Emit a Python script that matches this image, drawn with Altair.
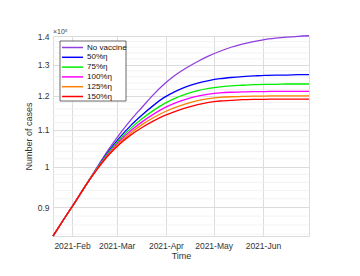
import altair as alt
import pandas as pd

dates = ["2021-01-20", "2021-01-27", "2021-02-03", "2021-02-10", "2021-02-17", "2021-02-24",
         "2021-03-03", "2021-03-10", "2021-03-17", "2021-03-24", "2021-03-31", "2021-04-07",
         "2021-04-14", "2021-04-21", "2021-04-28", "2021-05-05", "2021-05-12", "2021-05-19",
         "2021-05-26", "2021-06-02", "2021-06-09", "2021-06-16", "2021-06-23", "2021-06-30"]

series_names = ["No vaccine", "50%η", "75%η", "100%η", "125%η", "150%η"]
series_colors = ["#8f3fe0", "#0000ff", "#00ee00", "#ff00ff", "#ff8000", "#ff0000"]

no_vaccine = [0.836, 0.874, 0.913, 0.955, 1.000, 1.045, 1.088, 1.128, 1.165, 1.203, 1.237, 1.266,
              1.290, 1.311, 1.330, 1.346, 1.360, 1.371, 1.380, 1.387, 1.392, 1.396, 1.399, 1.401]
eta50 = [0.836, 0.874, 0.913, 0.955, 0.998, 1.040, 1.078, 1.112, 1.142, 1.170, 1.195, 1.214,
         1.229, 1.240, 1.248, 1.254, 1.258, 1.261, 1.263, 1.265, 1.266, 1.266, 1.267, 1.267]
eta75 = [0.836, 0.874, 0.913, 0.955, 0.997, 1.037, 1.073, 1.104, 1.131, 1.155, 1.176, 1.193,
         1.206, 1.216, 1.223, 1.228, 1.231, 1.233, 1.235, 1.236, 1.236, 1.237, 1.237, 1.237]
eta100 = [0.836, 0.874, 0.913, 0.955, 0.996, 1.034, 1.068, 1.097, 1.122, 1.144, 1.163, 1.178,
          1.190, 1.199, 1.205, 1.209, 1.211, 1.212, 1.213, 1.213, 1.214, 1.214, 1.214, 1.214]
eta125 = [0.836, 0.874, 0.913, 0.955, 0.995, 1.032, 1.064, 1.091, 1.114, 1.134, 1.151, 1.165,
          1.176, 1.185, 1.191, 1.195, 1.197, 1.198, 1.199, 1.199, 1.200, 1.200, 1.200, 1.200]
eta150 = [0.836, 0.874, 0.913, 0.955, 0.994, 1.030, 1.060, 1.085, 1.106, 1.124, 1.140, 1.153,
          1.164, 1.173, 1.180, 1.184, 1.186, 1.188, 1.189, 1.189, 1.190, 1.190, 1.190, 1.190]

y_major = [0.9, 1.0, 1.1, 1.2, 1.3, 1.4]
y_minor = [0.84, 0.86, 0.88, 0.92, 0.94, 0.96, 0.98, 1.02, 1.04, 1.06, 1.08, 1.12, 1.14, 1.16,
           1.18, 1.22, 1.24, 1.26, 1.28, 1.32, 1.34, 1.36, 1.38]
month_ticks = [(2021, 2), (2021, 3), (2021, 4), (2021, 5), (2021, 6)]

rows = []
for name, vals in zip(series_names, [no_vaccine, eta50, eta75, eta100, eta125, eta150]):
    for d, v in zip(dates, vals):
        rows.append({"date": d, "value": v, "series": name, "order": series_names.index(name)})
df = pd.DataFrame(rows)

font = "Liberation Sans"
yscale = alt.Scale(type="log", domain=[0.836, 1.40], nice=False)
xscale = alt.Scale(type="utc", domain=[alt.DateTime(year=2021, month=1, date=20, utc=True),
                                       alt.DateTime(year=2021, month=6, date=30, utc=True)], nice=False)

yaxis = alt.Axis(values=y_major, format=".1~f", grid=True, gridColor="#dcdcdc", ticks=False,
                 labelFontSize=8.5, labelColor="#333", titleFontSize=9, titleColor="#333",
                 labelFont=font, titleFont=font, titleFontWeight="normal", labelPadding=4,
                 titlePadding=4, domain=False)
xaxis = alt.Axis(values=[alt.DateTime(year=y, month=m, date=1, utc=True) for y, m in month_ticks],
                 format="%Y-%b", grid=True, gridColor="#dcdcdc", ticks=False,
                 labelFontSize=8.5, labelColor="#333", titleFontSize=9, titleColor="#333",
                 labelFont=font, titleFont=font, titleFontWeight="normal", labelPadding=5,
                 titlePadding=2, domain=False)

minor = alt.Chart(pd.DataFrame({"v": y_minor})).mark_rule(color="#f0f0f0", strokeWidth=0.8).encode(
    y=alt.Y("v:Q", scale=yscale, axis=yaxis, title="Number of cases")
)

lines = alt.Chart(df).mark_line(strokeWidth=1.3, interpolate="monotone").encode(
    x=alt.X("date:T", scale=xscale, title="Time", axis=xaxis),
    y=alt.Y("value:Q", scale=yscale, title="Number of cases", axis=yaxis),
    color=alt.Color("series:N", scale=alt.Scale(domain=series_names, range=series_colors), legend=None),
    order=alt.Order("order:Q"),
)

exp_text = alt.Chart(pd.DataFrame({"t": ["×10⁵"]})).mark_text(
    align="left", baseline="bottom", fontSize=7, font=font, color="#444"
).encode(x=alt.value(0), y=alt.value(-1), text="t:N")

# manual legend
legend_layers = [
    alt.Chart(pd.DataFrame({"a": [0]})).mark_rect(fill="white", stroke="#444", strokeWidth=0.8).encode(
        x=alt.value(7), x2=alt.value(73), y=alt.value(5), y2=alt.value(65))
]
for i, (name, col) in enumerate(zip(series_names, series_colors)):
    yy = 11.5 + 9.8 * i
    legend_layers.append(
        alt.Chart(pd.DataFrame({"s": [name]})).mark_rule(color=col, strokeWidth=1.5).encode(
            x=alt.value(9), x2=alt.value(30), y=alt.value(yy)))
    legend_layers.append(
        alt.Chart(pd.DataFrame({"s": [name]})).mark_text(
            align="left", baseline="middle", fontSize=8, font=font, color="#111").encode(
            x=alt.value(34), y=alt.value(yy), text="s:N"))

chart = alt.layer(minor, lines, exp_text, *legend_layers).properties(
    width=256, height=200,
    padding={"left": 45, "top": 28, "right": 43, "bottom": 32},
    autosize=alt.AutoSizeParams(type="none"),
).configure_view(stroke="#444", strokeWidth=1).configure(background="white")

chart.save("out.html", embed_options={"renderer": "svg", "actions": False})
